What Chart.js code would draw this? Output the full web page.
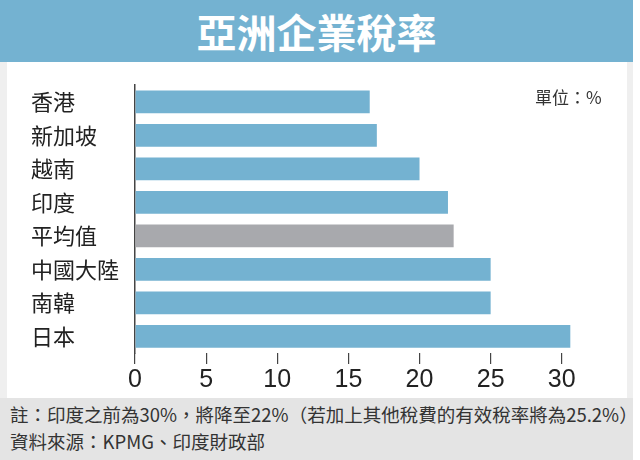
<!DOCTYPE html>
<html>
<head>
<meta charset="utf-8">
<script src="https://cdn.jsdelivr.net/npm/chart.js@4"></script>
<style>
  body { margin: 0; background: #fff; width: 640px; height: 460px; position: relative; overflow: hidden;
         font-family: "Noto Sans CJK TC", "Noto Sans", sans-serif; }
  .frame { position: absolute; left: 0; top: 62px; width: 633px; height: 336px; background: #efefef; }
  .panel { position: absolute; left: 7px; top: 62px; width: 620px; height: 336px; background: #fff; }
  .title { position: absolute; left: 0; top: 0; width: 633px; height: 62px; background: #74b2d1;
           color: #fff; font-weight: bold; font-size: 40px; line-height: 62px; text-align: center; }
  .unit { position: absolute; left: 535px; top: 84px; font-size: 17px; color: #333; }
  .foot { position: absolute; left: 0; top: 398px; width: 633px; height: 62px; background: #e4e4e4;
          color: #333; font-size: 18.5px; }
  .foot div { position: absolute; left: 10px; white-space: nowrap; }
</style>
</head>
<body>
<div class="title">亞洲企業稅率</div>
<div class="frame"></div>
<div class="panel"><canvas id="taxChart" width="620" height="336"></canvas></div>
<div class="unit">單位：%</div>
<div class="foot">
  <div style="top:3px">註：印度之前為30%，將降至22%（若加上其他稅費的有效稅率將為25.2%）</div>
  <div style="top:30px">資料來源：KPMG、印度財政部</div>
</div>
<script>
const categories = ['香港', '新加坡', '越南', '印度', '平均值', '中國大陸', '南韓', '日本'];
const rates = [16.5, 17, 20, 22, 22.4, 25, 25, 30.6];
const xTicks = [0, 5, 10, 15, 20, 25, 30];

const ctx = document.getElementById('taxChart').getContext('2d');
new Chart(ctx, {
  type: 'bar',
  data: {
    labels: categories,
    datasets: [{
      data: rates,
      backgroundColor: categories.map(c => c === '平均值' ? '#a8a9ad' : '#74b2d1'),
      borderWidth: 0,
      categoryPercentage: 1,
      barPercentage: 0.68
    }]
  },
  options: {
    indexAxis: 'y',
    responsive: false,
    animation: false,
    layout: { padding: { left: 24, top: 16, right: 51, bottom: 2 } },
    plugins: { legend: { display: false }, tooltip: { enabled: false } },
    scales: {
      x: {
        min: 0, max: 31,
        afterBuildTicks: axis => { axis.ticks = xTicks.map(v => ({ value: v })); },
        border: { display: false },
        grid: { drawOnChartArea: false, drawTicks: true, tickLength: 11, color: '#444', lineWidth: 1.2 },
        ticks: { padding: 1, color: '#222', font: { family: '"Liberation Sans Narrow", "Liberation Sans", sans-serif', size: 25 } }
      },
      y: {
        afterFit: axis => { axis.width = 104; },
        border: { display: true, color: '#444', width: 1.5 },
        grid: { display: false },
        ticks: { crossAlign: 'far', padding: 10, color: '#222', font: { family: '"Noto Sans CJK TC", sans-serif', size: 22 } }
      }
    }
  }
});
</script>
</body>
</html>
